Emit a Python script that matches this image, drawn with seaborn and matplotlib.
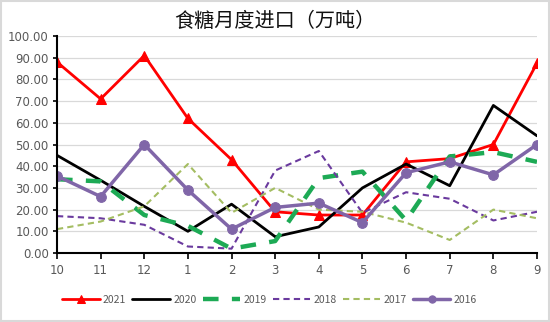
import numpy as np
import pandas as pd
import matplotlib
matplotlib.use("Agg")
import matplotlib.pyplot as plt
import seaborn as sns

months = ["10", "11", "12", "1", "2", "3", "4", "5", "6", "7", "8", "9"]
s2021 = [88, 71, 91, 62, 43, 19, 17.5, 17.5, 42, 43.5, 50, 87.5]
s2020 = [45, 33.5, 21.5, 10, 22.5, 7.5, 12, 30, 41, 31, 68, 54]
s2019 = [34, 33, 17.5, 12.5, 2, 5.5, 34.5, 37.5, 15, 44.5, 46.5, 42]
s2018 = [17, 16, 13, 3, 2, 38, 47, 18.5, 28, 25, 15, 19]
s2017 = [11, 14.5, 21.5, 41, 18.5, 30, 20, 19, 14, 6, 20, 16]
s2016 = [35.5, 26, 50, 29, 11, 21, 23, 14, 37, 42, 36, 50]
series_names = ["2021", "2020", "2019", "2018", "2017", "2016"]
series_vals = [s2021, s2020, s2019, s2018, s2017, s2016]

rows = []
for name, vals in zip(series_names, series_vals):
    for i, v in enumerate(vals):
        rows.append({"pos": i, "value": v, "series": name})
df = pd.DataFrame(rows)

sns.set_theme(style="white")
plt.rcParams['font.family'] = ['Noto Sans CJK SC', 'DejaVu Sans']

styles = {
    "2021": dict(color="#FF0000", lw=2, marker="^", ms=7, dashes=None),
    "2020": dict(color="#000000", lw=2, marker=None, ms=0, dashes=None),
    "2019": dict(color="#1DAA55", lw=3.2, marker=None, ms=0, dashes=(3.5, 3)),
    "2018": dict(color="#6A3A9E", lw=1.5, marker=None, ms=0, dashes=(3, 2)),
    "2017": dict(color="#A4BD62", lw=1.5, marker=None, ms=0, dashes=(3, 2)),
    "2016": dict(color="#8066A8", lw=2.5, marker="o", ms=7, dashes=None),
}

fig = plt.figure(figsize=(5.5, 3.22), dpi=100)
ax = fig.add_axes([57/550, 1-253/322, 480/550, 217/322])

for name in series_names:
    st = styles[name]
    sub = df[df["series"] == name]
    kw = dict(data=sub, x="pos", y="value", ax=ax, color=st["color"], linewidth=st["lw"], label=name)
    if st["marker"]:
        kw.update(marker=st["marker"], markersize=st["ms"], markeredgecolor=st["color"])
    sns.lineplot(**kw)
    l = ax.get_lines()[-1]
    if st["dashes"]:
        l.set_dashes(st["dashes"])

ax.set_xlim(0, 11)
ax.set_ylim(0, 100)
ax.set_xticks(range(12))
ax.set_xticklabels(months)
ax.set_yticks(np.arange(0, 101, 10))
ax.set_yticklabels([f"{v:.2f}" for v in np.arange(0, 101, 10)])
ax.set_xlabel("")
ax.set_ylabel("")
ax.grid(axis="y", color="#D9D9D9", linewidth=0.9)
ax.set_axisbelow(True)
for s in ["top", "right"]:
    ax.spines[s].set_visible(False)
for s in ["left", "bottom"]:
    ax.spines[s].set_color("black")
    ax.spines[s].set_linewidth(1.5)
ax.tick_params(axis="x", direction="out", length=4, width=1.2, color="black",
               labelsize=8.5, labelcolor="#595959", bottom=True, pad=4)
ax.tick_params(axis="y", direction="out", length=3, width=1.2, color="black",
               labelsize=8.5, labelcolor="#595959", left=True, pad=3)
for lab in ax.get_xticklabels() + ax.get_yticklabels():
    lab.set_family(['DejaVu Sans'])

fig.text(0.5, 1-21/322, "食糖月度进口（万吨）", ha="center", va="center",
         fontsize=14.5, color="#111111", family=['Noto Sans CJK SC', 'DejaVu Sans'])

handles, labels = ax.get_legend_handles_labels()
leg = ax.legend(handles, labels, loc="center", bbox_to_anchor=(0.49, 1-300/322), bbox_transform=fig.transFigure,
                ncol=6, frameon=False, fontsize=7.5, handlelength=3.6, columnspacing=0.6, handletextpad=0.3,
                labelcolor="#595959", markerscale=0.75)

fig.patches.append(plt.Rectangle((0.002, 0.003), 0.996, 0.994, transform=fig.transFigure,
                                 fill=False, edgecolor="#D9D9D9", linewidth=1.5))

fig.savefig("out.png", dpi=100)
